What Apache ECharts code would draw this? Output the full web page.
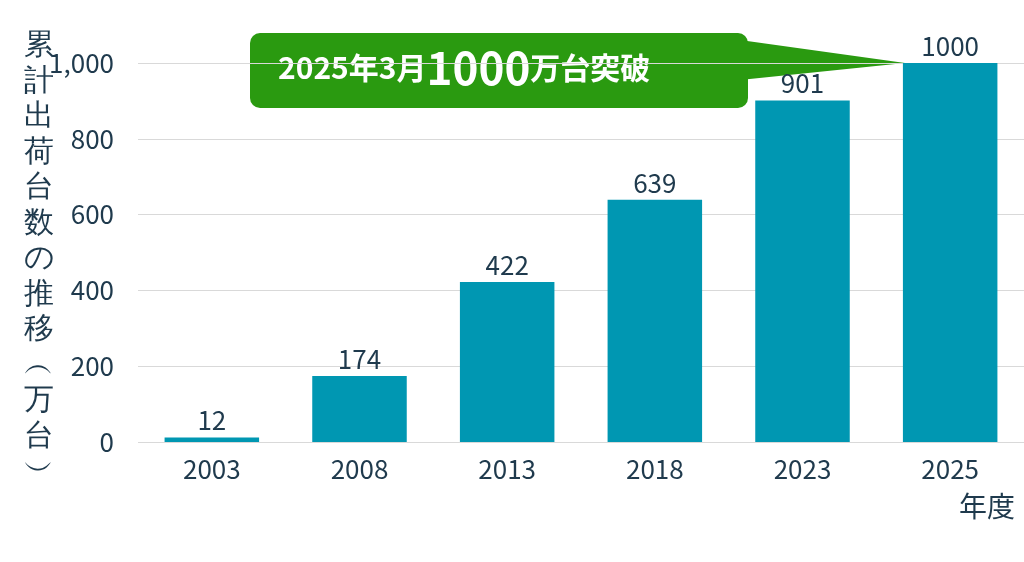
<!DOCTYPE html>
<html lang="ja">
<head>
<meta charset="UTF-8">
<script src="https://cdn.jsdelivr.net/npm/echarts@6/dist/echarts.min.js"></script>
<style>
*{margin:0;padding:0}
#main{width:1024px;height:562px}
</style>
</head>
<body>
<div id="main"></div>
<script>
var years = ['2003','2008','2013','2018','2023','2025'];
var units = [12, 174, 422, 639, 901, 1000];
var yTitle = '累計出荷台数の推移︵万台︶';
var font = '"Noto Sans CJK JP", "Noto Sans", sans-serif';
var dark = '#1f3a4d';

var chart = echarts.init(document.getElementById('main'));
chart.setOption({
    animation:false,
    textStyle:{fontFamily:font},
    grid:{left:138, width:888, top:63, bottom:120},
    xAxis:{
        type:'category', data:years,
        axisLine:{show:false}, axisTick:{show:false},
        axisLabel:{color:dark, fontSize:26, margin:14},
        name:'年度', nameLocation:'end',
        nameTextStyle:{color:dark, fontSize:28, align:'right', verticalAlign:'top', padding:[50,24,0,0]}
    },
    yAxis:{
        type:'value', min:0, max:1000, interval:200,
        axisLabel:{color:dark, fontSize:26, margin:24},
        splitLine:{lineStyle:{color:'#d9d9d9'}}
    },
    series:[{
        type:'bar', data:units, barWidth:'64%',
        itemStyle:{color:'#0097b2'},
        label:{show:true, position:'top', color:dark, fontSize:26, distance:4}
    }],
    graphic:[
        {type:'text', left:24, top:28, style:{
            text:yTitle.split('').join('\n'), fill:dark, fontSize:30, lineHeight:35.5, font:'30px ' + font
        }},
        {type:'polygon', shape:{points:[[740,40],[905,63],[740,80]]}, style:{fill:'#2a9a10'}},
        {type:'rect', shape:{x:250, y:33, width:498, height:75, r:10}, style:{fill:'#2a9a10'}},
        {type:'text', left:278, top:46, style:{
            text:'{s|2025年3月}{b|1000}{s|万台突破}',
            rich:{
                s:{fontSize:30, fontWeight:'bold', fill:'#fff', fontFamily:font},
                b:{fontSize:44, fontWeight:'bold', fill:'#fff', fontFamily:font}
            }
        }}
    ]
});
</script>
</body>
</html>
